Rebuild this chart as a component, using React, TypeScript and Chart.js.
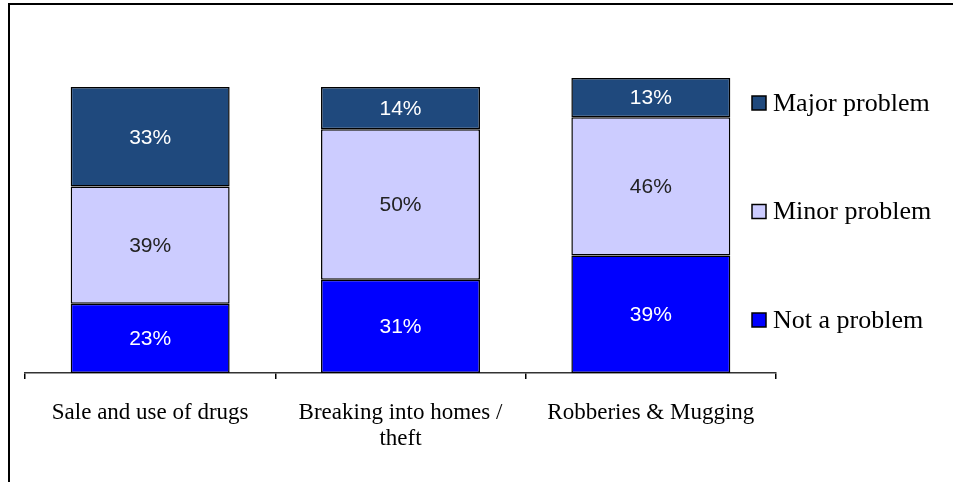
import React, { useEffect, useRef } from "react";
import { Chart, registerables } from "chart.js";

Chart.register(...registerables);

const categories: (string | string[])[] = [
  "Sale and use of drugs",
  ["Breaking into homes /", "theft"],
  "Robberies & Mugging",
];
const notAProblem = [23, 31, 39];
const minorProblem = [39, 50, 46];
const majorProblem = [33, 14, 13];

const seriesNames = ["Not a problem", "Minor problem", "Major problem"];
const seriesColors = ["#0000FF", "#CCCCFF", "#1F497D"];
const labelColors = ["#FFFFFF", "#222222", "#FFFFFF"];

const SERIF = "'Liberation Serif', 'Times New Roman', serif";
const SANS = "'Liberation Sans', Arial, sans-serif";

const valueLabels = {
  id: "valueLabels",
  afterDatasetsDraw(chart: any) {
    const ctx = chart.ctx;
    ctx.save();
    ctx.font = `21px ${SANS}`;
    ctx.textAlign = "center";
    ctx.textBaseline = "middle";
    chart.data.datasets.forEach((ds: any, di: number) => {
      const meta = chart.getDatasetMeta(di);
      meta.data.forEach((bar: any, i: number) => {
        const v = ds.data[i];
        const y = (bar.y + bar.base) / 2;
        ctx.fillStyle = labelColors[di];
        ctx.fillText(`${v}%`, bar.x, y + 1);
      });
    });
    ctx.restore();
  },
};

const sideLegend = {
  id: "sideLegend",
  afterDraw(chart: any) {
    const ctx = chart.ctx;
    const ds = chart.data.datasets;
    const x = chart.chartArea.right - 24;
    const top = chart.chartArea.top + 31;
    const step = 108.5;
    ctx.save();
    ctx.font = `26px ${SERIF}`;
    ctx.textBaseline = "middle";
    ctx.textAlign = "left";
    for (let k = 0; k < ds.length; k++) {
      const d = ds[ds.length - 1 - k];
      const cy = top + k * step;
      ctx.fillStyle = d.backgroundColor;
      ctx.fillRect(x, cy - 7, 14, 14);
      ctx.lineWidth = 1.5;
      ctx.strokeStyle = "#000";
      ctx.strokeRect(x, cy - 7, 14, 14);
      ctx.fillStyle = "#000";
      ctx.fillText(d.label, x + 21, cy + 1);
    }
    ctx.restore();
  },
};

export default function App() {
  const ref = useRef<HTMLCanvasElement>(null);
  useEffect(() => {
    if (!ref.current) return;
    const values = [notAProblem, minorProblem, majorProblem];
    const chart = new Chart(ref.current, {
      type: "bar",
      data: {
        labels: categories,
        datasets: values.map((v, i) => ({
          label: seriesNames[i],
          data: v,
          backgroundColor: seriesColors[i],
          borderColor: "#000",
          borderWidth: 1.5,
          borderSkipped: false,
          categoryPercentage: 0.635,
          barPercentage: 1,
        })),
      },
      options: {
        responsive: false,
        animation: false,
        maintainAspectRatio: false,
        layout: { padding: { left: 25, right: 177, top: 72, bottom: 0 } },
        plugins: {
          legend: { display: false },
          tooltip: { enabled: false },
        },
        scales: {
          x: {
            stacked: true,
            afterFit: (scale: any) => {
              scale.height = 109;
            },
            grid: {
              display: true,
              offset: true,
              drawOnChartArea: false,
              drawTicks: true,
              tickLength: 6,
              color: "#000",
              lineWidth: 1.5,
            },
            border: { display: true, color: "#333", width: 1.5 },
            ticks: {
              color: "#000",
              font: { family: SERIF, size: 23, lineHeight: 1.17 },
              padding: 20,
              maxRotation: 0,
              autoSkip: false,
            },
          },
          y: {
            stacked: true,
            display: false,
            min: 0,
            max: 100,
          },
        },
      },
      plugins: [valueLabels, sideLegend],
    });
    return () => chart.destroy();
  }, []);

  return (
    <div style={{ position: "fixed", left: 0, top: 0, width: 953, height: 482, background: "#fff" }}>
      <div
        style={{
          position: "absolute",
          left: 8,
          top: 3,
          width: 980,
          height: 520,
          border: "2px solid #000",
          boxSizing: "border-box",
        }}
      />
      <canvas ref={ref} width={953} height={482} style={{ position: "absolute", left: 0, top: 0 }} />
    </div>
  );
}
